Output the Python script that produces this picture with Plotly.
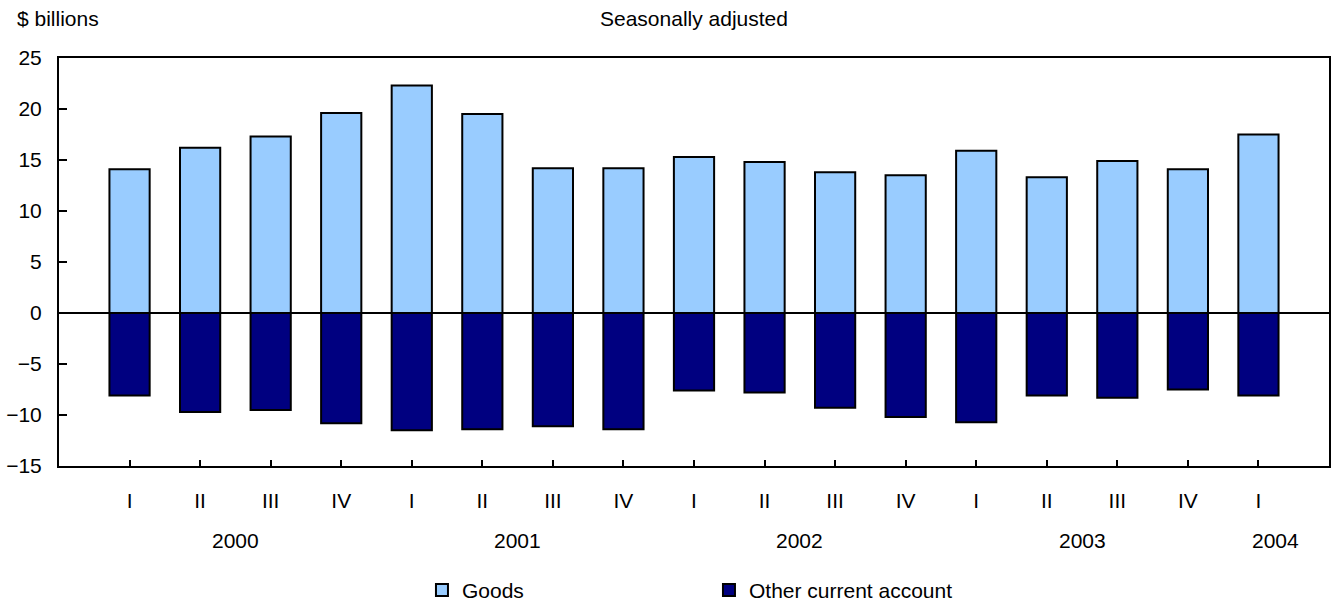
import plotly.graph_objects as go

quarters = ["I", "II", "III", "IV", "I", "II", "III", "IV", "I", "II", "III", "IV", "I", "II", "III", "IV", "I"]
years = ["2000", "2001", "2002", "2003", "2004"]
year_pos = [1.5, 5.5, 9.5, 13.5, 16.24]
goods = [14.1, 16.2, 17.3, 19.6, 22.3, 19.5, 14.2, 14.2, 15.3, 14.8, 13.8, 13.5, 15.9, 13.3, 14.9, 14.1, 17.5]
other = [-8.1, -9.7, -9.5, -10.8, -11.5, -11.4, -11.1, -11.4, -7.6, -7.8, -9.3, -10.2, -10.7, -8.1, -8.3, -7.5, -8.1]

x = list(range(len(quarters)))
FONT = "Liberation Sans, Arial, sans-serif"
FS = 21

fig = go.Figure()
fig.add_trace(go.Bar(x=x, y=goods, name="Goods", width=0.57,
                     marker=dict(color="#99CCFF", line=dict(color="black", width=2))))
fig.add_trace(go.Bar(x=x, y=other, name="Other current account", width=0.57,
                     marker=dict(color="#000080", line=dict(color="black", width=2))))

fig.update_layout(
    width=1331, height=603,
    margin=dict(l=59, r=2, t=58, b=137, autoexpand=False),
    barmode="relative",
    plot_bgcolor="white", paper_bgcolor="white",
    font=dict(family=FONT, size=FS, color="black"),
    showlegend=True,
    legend=dict(orientation="h", x=0.2858, xanchor="left", y=-0.305, yanchor="middle",
                entrywidth=242, entrywidthmode="pixels", font=dict(size=FS),
                bgcolor="rgba(0,0,0,0)"),
)
fig.update_xaxes(range=[-1, 17], tickmode="array", tickvals=x, ticktext=quarters,
                 ticks="inside", ticklen=6, tickwidth=1.5, tickcolor="black",
                 showline=True, linecolor="black", linewidth=2, mirror=True,
                 showgrid=False, zeroline=False, ticklabelstandoff=15)
fig.update_yaxes(range=[-15, 25], dtick=5, tick0=0, ticks="inside", ticklen=8, tickwidth=1.5,
                 tickcolor="black", showline=True, linecolor="black", linewidth=2, mirror=True,
                 showgrid=False, zeroline=True, zerolinecolor="black", zerolinewidth=2,
                 ticklabelstandoff=11)

for yr, px in zip(years, year_pos):
    fig.add_annotation(x=px, y=-0.182, xref="x", yref="paper", text=yr, showarrow=False,
                       font=dict(size=FS), xanchor="center", yanchor="middle")

fig.add_annotation(x=-0.0346, y=1.098, xref="paper", yref="paper", text="$ billions",
                   showarrow=False, xanchor="left", yanchor="middle", font=dict(size=FS))
fig.add_annotation(x=0.5, y=1.098, xref="paper", yref="paper", text="Seasonally adjusted",
                   showarrow=False, xanchor="center", yanchor="middle", font=dict(size=FS))

fig.write_html("out.html")
